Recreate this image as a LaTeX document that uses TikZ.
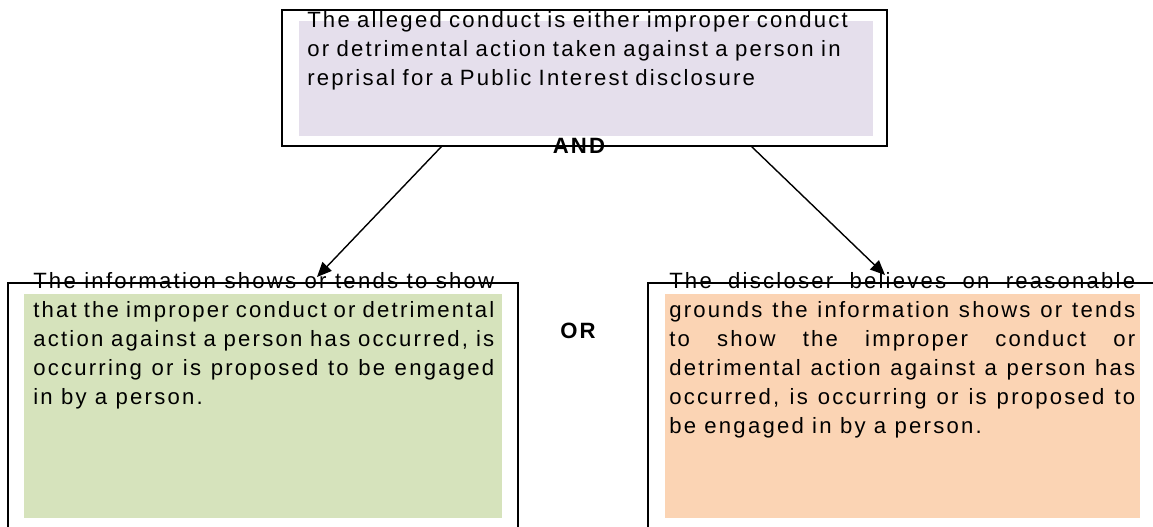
\documentclass[tikz,border=0pt]{standalone}
\usepackage{fontspec}
\setmainfont{Liberation Sans}[LetterSpace=10]
\usetikzlibrary{arrows.meta,calc}
\definecolor{lilac}{HTML}{E5DFEC}
\definecolor{sage}{HTML}{D6E3BC}
\definecolor{peach}{HTML}{FBD4B4}
\def\u{0.75pt}

\begin{document}
\begin{tikzpicture}[x=\u, y=-\u,
  outer/.style={rectangle, draw=black, line width=1.6*\u, anchor=north west, inner sep=0pt, outer sep=0pt},
  patch/.style={rectangle, fill=#1, anchor=north west, inner sep=0pt, outer sep=0pt},
  words/.style={anchor=base west, inner sep=0pt, font=\fontsize{16.6}{21.75}\selectfont},
  joint/.style={inner sep=0pt, font=\fontsize{16.6}{18}\selectfont\bfseries},
  link/.style={line width=1.4*\u, -{Triangle[length=11pt,width=9.5pt]}}]
\clip (0,0) rectangle (1153,526);
% top box
\node[outer, minimum width=605*\u, minimum height=136*\u] (main) at (282,10) {};
\node[patch=lilac, minimum width=574*\u, minimum height=115*\u] (mainfill) at (299,21) {};
\node[words, text width=570*\u, align=left] (maintext) at (307,27) {The alleged conduct is either improper conduct\\or detrimental action taken against a person in\\reprisal for a Public Interest disclosure};
\node[joint] (and) at (579,146) {AND};
% lower boxes
\node[outer, minimum width=510*\u, minimum height=260*\u] (info) at (8,283) {};
\node[patch=sage, minimum width=478*\u, minimum height=224*\u] (infofill) at (24,294) {};
\node[words, text width=461*\u, align=justify] (infotext) at (33,288) {The information shows or tends to show\linebreak that the improper conduct or detrimental\linebreak action against a person has occurred, is\linebreak occurring or is proposed to be engaged\linebreak in by a person.};
\node[outer, minimum width=520*\u, minimum height=260*\u] (belief) at (648,283) {};
\node[patch=peach, minimum width=475*\u, minimum height=224*\u] (belieffill) at (665,294) {};
\node[words, text width=466*\u, align=justify] (belieftext) at (669,288) {The discloser believes on reasonable\linebreak grounds the information shows or tends\linebreak to show the improper conduct or\linebreak detrimental action against a person has\linebreak occurred, is occurring or is proposed to\linebreak be engaged in by a person.};
\node[joint] (or) at (578,331) {OR};
% arrows
\coordinate (infotip) at (317,277);
\coordinate (belieftip) at (885,275);
\draw[link] ($(main.south west)+(160,0)$) -- (infotip);
\draw[link] ($(main.south west)+(469,0)$) -- (belieftip);
\end{tikzpicture}
\end{document}
